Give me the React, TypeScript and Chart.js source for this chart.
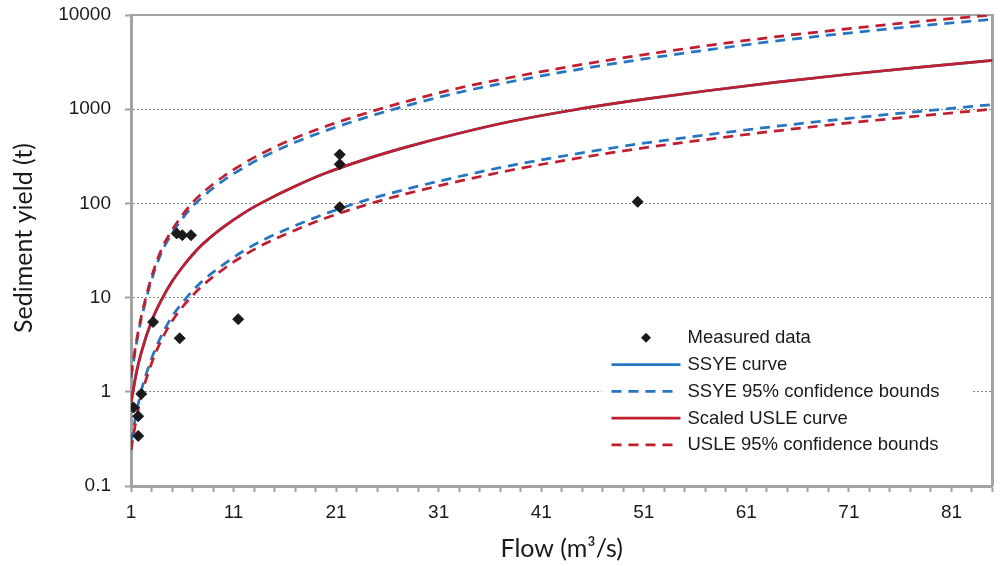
import React, { useEffect, useRef } from 'react';
import { Chart, registerables } from 'chart.js';

Chart.register(...registerables);

// ---- data ----
const curveFlow = [1, 1.5, 2, 3, 4, 5, 6, 7, 8, 10, 12, 14, 17, 20, 24, 28, 33, 38, 44, 50, 57, 64, 71, 78, 85];

const ssyeCurve = [0.75, 1.55, 2.6, 5.6, 9.6, 14.8, 21, 28.5, 37, 56, 79, 105, 152, 210, 297, 400, 555, 740, 975, 1230, 1560, 1940, 2350, 2800, 3300];
const ssyeUpper = [1.4, 3.1, 5.9, 15.3, 30.5, 48, 69, 93, 118, 175, 240, 316, 445, 592, 823, 1100, 1510, 1955, 2575, 3285, 4230, 5310, 6435, 7700, 9000];
const ssyeLower = [0.29, 0.58, 1.02, 2.25, 4.0, 6.3, 8.8, 11.8, 15.1, 22.4, 31.4, 41.4, 58, 78, 109, 143, 193, 252, 330, 420, 532, 660, 800, 950, 1120];

const usleCurve = [0.75, 1.55, 2.6, 5.6, 9.6, 14.8, 21, 28.5, 37, 56, 79, 105, 152, 210, 297, 400, 555, 740, 975, 1230, 1560, 1940, 2350, 2800, 3300];
const usleUpper = [1.5, 3.3, 6.3, 16.5, 33, 52, 75, 102, 130, 193, 266, 350, 494, 658, 914, 1220, 1680, 2170, 2860, 3650, 4700, 5900, 7150, 8550, 10000];
const usleLower = [0.24, 0.5, 0.9, 2.0, 3.6, 5.6, 7.9, 10.5, 13.5, 20, 28, 37, 52, 70, 97, 128, 172, 225, 295, 375, 475, 590, 715, 850, 1000];

const measuredFlow = [1.25, 1.7, 1.7, 2.0, 3.15, 5.45, 6.0, 6.85, 5.75, 11.45, 21.35, 21.35, 21.35, 50.4];
const measuredYield = [0.68, 0.55, 0.34, 0.95, 5.5, 48, 46, 46, 3.7, 5.9, 330, 260, 91, 104];

const xTickLabels = [1, 11, 21, 31, 41, 51, 61, 71, 81];
const yTickValues = [0.1, 1, 10, 100, 1000, 10000];

const legendLabels = [
  'Measured data',
  'SSYE curve',
  'SSYE 95% confidence bounds',
  'Scaled USLE curve',
  'USLE 95% confidence bounds',
];

const xTitle = 'Flow (m\u00B3/s)';
const yTitle = 'Sediment yield (t)';

// ---- styles ----
const BLUE = '#2676c2';
const RED = '#c01f2f';
const AXIS_GRAY = '#a3a3a3';
const GRID_GRAY = '#8a8a8a';
const TEXT = '#1a1a1a';
const DASH = [10, 7];
const LINE_W = 2.75;
const TICK_FONT = "'Liberation Sans', Arial, sans-serif";
const TITLE_FONT = "Lato, 'Open Sans', sans-serif";

const pts = (xs: number[], ys: number[]) => xs.map((x, i) => ({ x, y: ys[i] }));

const decorPlugin = {
  id: 'decor',
  beforeDatasetsDraw(chart: any) {
    const { ctx, chartArea: a } = chart;
    ctx.save();
    ctx.strokeStyle = AXIS_GRAY;
    ctx.lineWidth = 2;
    ctx.beginPath();
    ctx.moveTo(a.left, a.top);
    ctx.lineTo(a.right, a.top);
    ctx.stroke();
    ctx.lineWidth = 3;
    ctx.beginPath();
    ctx.moveTo(a.right, a.top - 1);
    ctx.lineTo(a.right, a.bottom);
    ctx.stroke();
    ctx.restore();
  },
  afterDraw(chart: any) {
    const { ctx, chartArea: a } = chart;
    ctx.save();
    // axis titles
    ctx.fillStyle = TEXT;
    ctx.font = `25px ${TITLE_FONT}`;
    ctx.textAlign = 'center';
    ctx.textBaseline = 'alphabetic';
    ctx.fillText(xTitle, (a.left + a.right) / 2, 557);
    ctx.save();
    ctx.translate(32, 238);
    ctx.rotate(-Math.PI / 2);
    ctx.fillText(yTitle, 0, 0);
    ctx.restore();

    // legend
    const ds = chart.data.datasets;
    const entries = [0, 4, 5, 1, 2]; // dataset index for each legend label
    const lx = a.right - 381;
    const ly = a.bottom - 148.3;
    const step = 26.8;
    ctx.fillStyle = '#ffffff';
    ctx.fillRect(lx - 10, ly - 16, a.right - 20 - (lx - 10), 4 * step + 32);
    ctx.font = `18.5px ${TICK_FONT}`;
    ctx.textAlign = 'left';
    ctx.textBaseline = 'middle';
    entries.forEach((di, i) => {
      const d = ds[di];
      const y = ly + i * step;
      if (d.showLine === false) {
        const cx = lx + 34.5;
        const r = 5;
        ctx.fillStyle = d.backgroundColor;
        ctx.beginPath();
        ctx.moveTo(cx - r, y);
        ctx.lineTo(cx, y - r);
        ctx.lineTo(cx + r, y);
        ctx.lineTo(cx, y + r);
        ctx.closePath();
        ctx.fill();
      } else {
        ctx.strokeStyle = d.borderColor;
        ctx.lineWidth = d.borderWidth;
        ctx.setLineDash(d.borderDash || []);
        ctx.lineDashOffset = 0;
        ctx.beginPath();
        ctx.moveTo(lx, y);
        ctx.lineTo(d.borderDash ? lx + 63 : lx + 69, y);
        ctx.stroke();
        ctx.setLineDash([]);
      }
      ctx.fillStyle = TEXT;
      ctx.fillText(legendLabels[i], lx + 76, y + 0.5);
    });
    ctx.restore();
  },
};

export default function App() {
  const ref = useRef<HTMLCanvasElement | null>(null);

  useEffect(() => {
    if (!ref.current) return;
    const lineDs = (label: string, ys: number[], color: string, dashed: boolean, order: number) => ({
      type: 'line',
      label,
      data: pts(curveFlow, ys),
      borderColor: color,
      backgroundColor: color,
      borderWidth: LINE_W,
      borderDash: dashed ? DASH : undefined,
      pointRadius: 0,
      pointHoverRadius: 0,
      fill: false,
      cubicInterpolationMode: 'monotone',
      order,
    });

    const chart = new Chart(ref.current, {
      type: 'line',
      data: {
        datasets: [
          {
            type: 'scatter',
            label: legendLabels[0],
            data: pts(measuredFlow, measuredYield),
            showLine: false,
            pointStyle: 'rectRot',
            pointRadius: 5.5,
            pointHoverRadius: 5.5,
            backgroundColor: '#1a1a1a',
            borderColor: '#1a1a1a',
            borderWidth: 1,
            order: 0,
          } as any,
          lineDs(legendLabels[3], usleCurve, RED, false, 1),
          lineDs(legendLabels[4], usleUpper, RED, true, 2),
          lineDs(legendLabels[4], usleLower, RED, true, 2),
          lineDs(legendLabels[1], ssyeCurve, BLUE, false, 3),
          lineDs(legendLabels[2], ssyeUpper, BLUE, true, 4),
          lineDs(legendLabels[2], ssyeLower, BLUE, true, 4),
        ] as any,
      },
      options: {
        responsive: false,
        animation: false,
        devicePixelRatio: 1,
        layout: { padding: { top: 15, right: 12.5, bottom: 0, left: 0 } },
        plugins: { legend: { display: false }, tooltip: { enabled: false } },
        scales: {
          x: {
            type: 'linear',
            min: 1,
            max: 85,
            afterBuildTicks: (s: any) => {
              const t = [];
              for (let v = 1; v <= 85; v += 2) t.push({ value: v });
              s.ticks = t;
            },
            afterFit: (s: any) => {
              s.height = 80;
              s.paddingLeft = 0;
              s.paddingRight = 0;
            },
            ticks: {
              autoSkip: false,
              maxRotation: 0,
              padding: 9,
              color: TEXT,
              font: { family: TICK_FONT, size: 19 },
              callback: (v: any) => (xTickLabels.includes(Number(v)) ? String(v) : ''),
            },
            grid: {
              drawOnChartArea: false,
              drawTicks: true,
              tickLength: 6,
              tickColor: AXIS_GRAY,
              tickWidth: 2,
              color: AXIS_GRAY,
            },
            border: { display: true, color: AXIS_GRAY, width: 3 },
          },
          y: {
            type: 'logarithmic',
            min: 0.1,
            max: 10000,
            afterBuildTicks: (s: any) => {
              s.ticks = yTickValues.map((v) => ({ value: v }));
            },
            afterFit: (s: any) => {
              s.width = 131;
              s.paddingTop = 0;
              s.paddingBottom = 0;
            },
            ticks: {
              autoSkip: false,
              padding: 14,
              color: TEXT,
              font: { family: TICK_FONT, size: 19 },
              callback: (v: any) => String(Number(v)),
            },
            grid: {
              drawOnChartArea: true,
              drawTicks: true,
              tickLength: 6,
              tickColor: AXIS_GRAY,
              tickWidth: 2,
              color: GRID_GRAY,
              lineWidth: 1,
              borderDash: [2, 2],
            } as any,
            border: { display: true, color: AXIS_GRAY, width: 3, dash: [2, 2] },
          },
        },
      } as any,
      plugins: [decorPlugin],
    });
    return () => chart.destroy();
  }, []);

  return (
    <div style={{ position: 'absolute', left: 0, top: 0, width: 1005, height: 566, background: '#fff' }}>
      <canvas ref={ref} width={1005} height={566} style={{ display: 'block' }} />
    </div>
  );
}
